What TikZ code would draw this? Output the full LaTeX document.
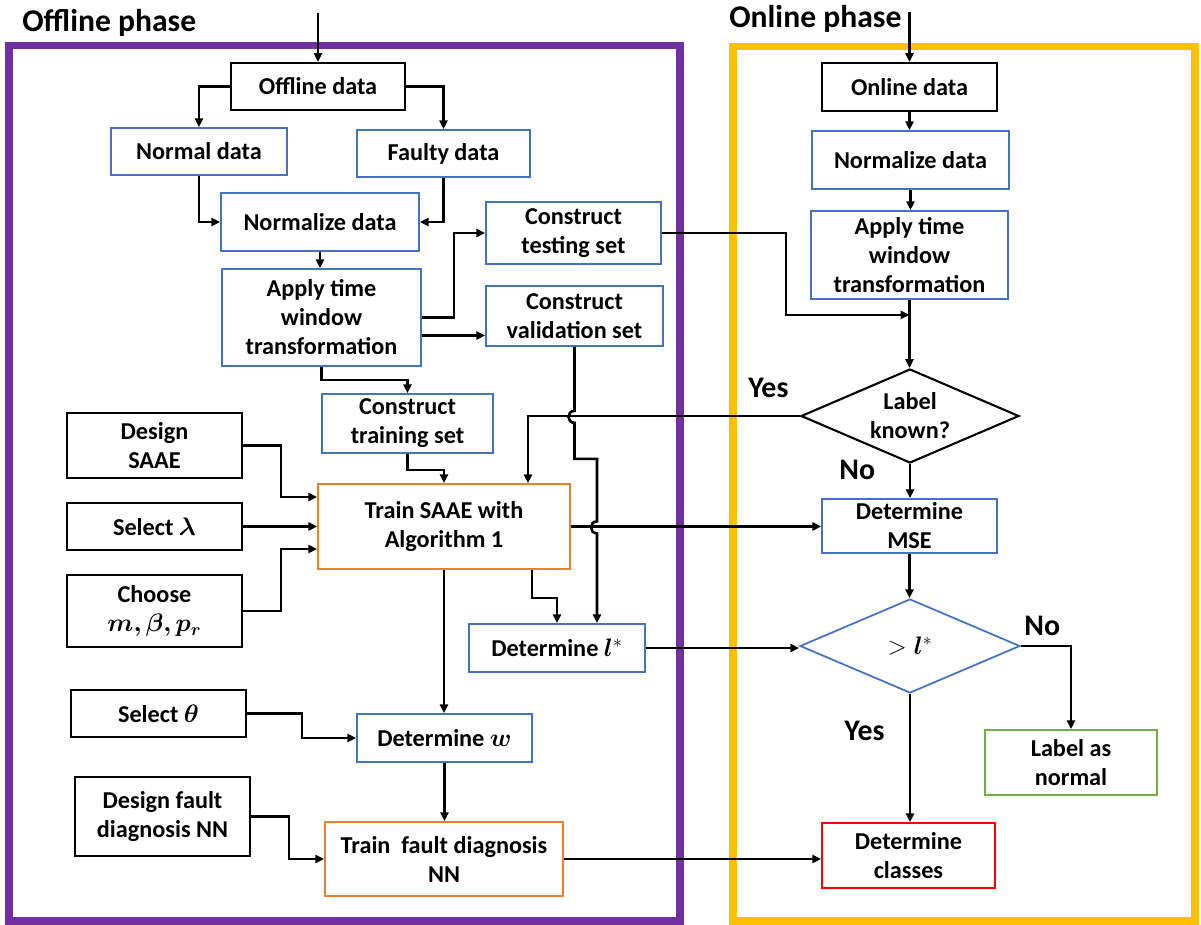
\documentclass[tikz,border=0pt]{standalone}
\usepackage{amsmath,bm}
\usepackage{fontspec}
\setmainfont{Carlito}
\usetikzlibrary{arrows.meta,calc,shapes.geometric}
\definecolor{cpurple}{HTML}{7030A0}
\definecolor{cgold}{HTML}{FFC000}
\definecolor{cblue}{HTML}{4472C4}
\definecolor{corange}{HTML}{ED7D31}
\definecolor{cgreen}{HTML}{70AD47}
\definecolor{cred}{HTML}{FF0000}
\begin{document}
\begin{tikzpicture}[x=0.02cm,y=-0.02cm,
  font=\fontsize{13.8}{16.5}\selectfont\bfseries,
  sz/.style 2 args={minimum width=#1*0.02cm, minimum height=#2*0.02cm},
  boxbase/.style={rectangle, inner sep=0pt, align=center},
  kbox/.style={boxbase, draw=black, line width=1.2pt},
  bbox/.style={boxbase, draw=cblue, line width=1pt},
  obox/.style={boxbase, draw=corange, line width=1pt},
  gbox/.style={boxbase, draw=cgreen, line width=1pt},
  rbox/.style={boxbase, draw=cred, line width=1pt},
  dbox/.style={diamond, aspect=2.3, inner sep=0pt, align=center, line width=1.2pt},
  ln/.style={line width=1.5pt, draw=black},
  arr/.style={ln, -{Triangle[length=5pt,width=4.6pt]}},
  frame/.style={line width=4pt},
  big/.style={font=\fontsize{17}{20}\selectfont\bfseries, inner sep=0pt, anchor=base west},
  title/.style={font=\fontsize{18}{21}\selectfont\bfseries, inner sep=0pt, anchor=base west}]
\useasboundingbox (0,0) rectangle (1201,924);

% phase frames
\draw[frame, draw=cpurple] (9,45.5) rectangle (680,921);
\draw[frame, draw=cgold] (733,46.5) rectangle (1195,921);
\node[title] (offtitle) at (22,31) {Offline phase};
\node[title] (ontitle) at (729,27) {Online phase};

% offline boxes
\node[kbox, sz={174}{47}] (offdata) at (318,86.5) {Offline data};
\node[bbox, sz={176}{47}] (normal) at (199,151.5) {Normal data};
\node[bbox, sz={173}{47}] (faulty) at (443.5,153.5) {Faulty data};
\node[bbox, sz={198}{58}] (normoff) at (320,222) {Normalize data};
\node[bbox, sz={199}{97}] (applyoff) at (321.5,317.5) {Apply time\\window\\transformation};
\node[bbox, sz={175}{62}] (testset) at (573.5,233) {Construct\\testing set};
\node[bbox, sz={177}{60}] (valset) at (574.5,316) {Construct\\validation set};
\node[bbox, sz={171}{59}] (trainset) at (407.5,423.5) {Construct\\training set};
\node[obox, sz={252}{85}] (trainsaae) at (444,526.5) {Train SAAE with\\Algorithm 1};
\node[kbox, sz={175}{65}] (designsaae) at (154.5,445.5) {Design\\SAAE};
\node[kbox, sz={175}{47}] (sellambda) at (154.5,526.5) {Select $\bm{\lambda}$};
\node[kbox, sz={175}{72}] (choose) at (154.5,611) {Choose\\$\bm{m,\beta,p_r}$};
\node[bbox, sz={176}{48}] (detl) at (557,648) {Determine $\bm{l}^{*}$};
\node[kbox, sz={175}{47}] (selth) at (158.5,713.5) {Select $\bm{\theta}$};
\node[bbox, sz={175}{48}] (detw) at (444.5,738) {Determine $\bm{w}$};
\node[kbox, sz={175}{79}] (designnn) at (162.5,816.5) {Design fault\\diagnosis NN};
\node[obox, sz={238}{74}] (trainnn) at (444,859) {Train\ \ fault diagnosis\\NN};

% online boxes
\node[kbox, sz={175}{48}] (ondata) at (909.5,87) {Online data};
\node[bbox, sz={197}{58}] (normon) at (910.5,160) {Normalize data};
\node[bbox, sz={197}{88}] (applyon) at (909.5,255) {Apply time\\window\\transformation};
\node[dbox, draw=black, sz={218}{94}] (known) at (910,416) {Label\\known?};
\node[bbox, sz={175}{54}] (mse) at (909.5,526) {Determine\\MSE};
\node[dbox, draw=cblue, line width=1pt, sz={220}{94}] (thresh) at (910,646) {$>\bm{l}^{*}$};
\node[gbox, sz={172}{65}] (normlab) at (1071,762.5) {Label as\\normal};
\node[rbox, sz={173}{65}] (classes) at (908.5,855.5) {Determine\\classes};

% decision labels
\node[big] (yes1) at (748,397) {Yes};
\node[big] (no1) at (839,479) {No};
\node[big] (no2) at (1024,635) {No};
\node[big] (yes2) at (844,740) {Yes};

% offline connectors
\coordinate (offin) at (318,13);
\draw[arr] (offin) -- (offdata.north);
\draw[arr] (offdata.west) -| (normal.north);
\draw[arr] (offdata.east) -| (faulty.north);
\draw[arr] (normal.south) |- (normoff.west);
\draw[arr] (faulty.south) |- (normoff.east);
\draw[arr] (normoff.south) -- (normoff.south |- applyoff.north);
\draw[arr] (applyoff.east) -- ++(32,0) |- (testset.west);
\draw[arr] ($(applyoff.east)+(0,18)$) coordinate (tv) -- (tv -| valset.west);
\draw[arr] (applyoff.south) -- ++(0,13) -| (trainset.north);
\draw[arr] (trainset.south) -- ++(0,16) -| (trainsaae.north);
\draw[arr] (designsaae.east) -- ++(38,0) |- ($(trainsaae.west)+(0,-29.5)$);
\draw[arr] (sellambda.east) -- (trainsaae.west);
\draw[arr] (choose.east) -- ++(38,0) |- ($(trainsaae.west)+(0,22.5)$);
\draw[arr] (known.west) -| ($(trainsaae.north)+(84,0)$);
\draw[arr] (valset.south) -- ++(0,64)
  .. controls +(-8,0) and +(-8,0) .. ++(0,12)
  -- ++(0,36) -- ++(22.5,0) -- ++(0,62.5)
  .. controls +(-8,0) and +(-8,0) .. ++(0,12)
  -- ($(detl.north)+(40,0)$);
\draw[arr] (trainsaae.east) -- (trainsaae.east -| mse.west);
\draw[arr] ($(trainsaae.south)+(88,0)$) -- ++(0,28) -| (detl.north);
\draw[arr] (trainsaae.south) -- (trainsaae.south |- detw.north);
\draw[arr] (detl.east) -- (detl.east -| thresh.west);
\draw[arr] (selth.east) -- ++(55,0) |- (detw.west);
\draw[arr] (detw.south) -- (detw.south |- trainnn.north);
\draw[arr] (designnn.east) -- ++(38,0) |- (trainnn.west);
\draw[arr] (trainnn.east) -- (trainnn.east -| classes.west);

% online connectors
\coordinate (onin) at (909.5,12);
\draw[arr] (onin) -- (ondata.north);
\draw[arr] (ondata.south) -- (ondata.south |- normon.north);
\draw[arr] (normon.south) -- (normon.south |- applyon.north);
\draw[arr] (applyon.south) -- (applyon.south |- known.north);
\coordinate (merge) at ($(applyon.south)+(0,15)$);
\draw[arr] (testset.east) -- ++(124,0) |- (merge);
\draw[arr] (known.south) -- (known.south |- mse.north);
\draw[arr] (mse.south) -- (mse.south |- thresh.north);
\draw[arr] (thresh.east) -| (normlab.north);
\draw[arr] (thresh.south) -- (thresh.south |- classes.north);
\end{tikzpicture}
\end{document}
